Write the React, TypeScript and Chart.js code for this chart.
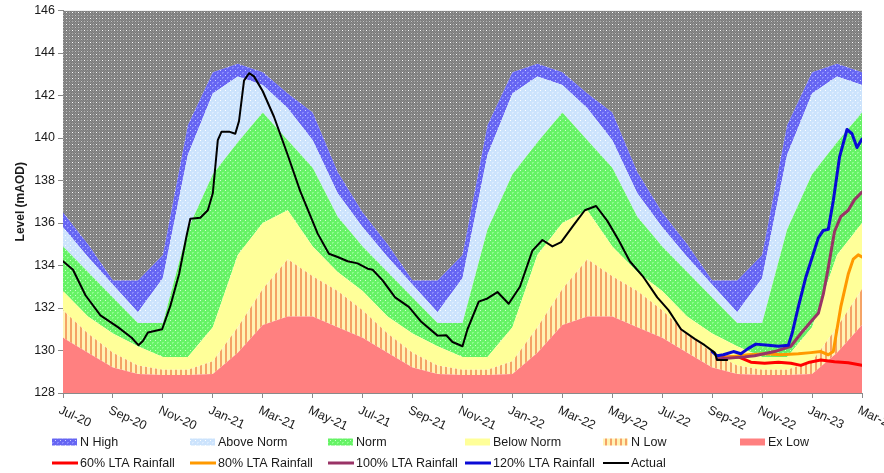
import React, { useEffect, useRef } from 'react';
import { Chart, registerables } from 'chart.js';

Chart.register(...registerables);

// ---------- data ----------
// x = months since Jul-2020
const bandMonths = [0, 1, 2, 3, 4, 5, 6, 7, 8, 9, 10, 11, 12, 13, 14, 15, 16, 17, 18, 19, 20, 21, 22, 23, 24, 25, 26, 27, 28, 29, 30, 31, 32];

const exLowTop = [
  130.6, 129.9, 129.2, 128.9, 128.85, 128.85, 128.9, 129.9, 131.2, 131.6, 131.6, 131.1,
  130.6, 129.9, 129.2, 128.9, 128.85, 128.85, 128.9, 129.9, 131.2, 131.6, 131.6, 131.1,
  130.6, 129.9, 129.2, 128.9, 128.85, 128.85, 128.9, 129.9, 131.2,
];
const nLowTop = [
  131.9, 130.8, 129.9, 129.3, 129.1, 129.1, 129.5, 131.1, 132.9, 134.3, 133.5, 132.8,
  131.9, 130.8, 129.9, 129.3, 129.1, 129.1, 129.5, 131.1, 132.9, 134.3, 133.5, 132.8,
  131.9, 130.8, 129.9, 129.3, 129.1, 129.1, 129.5, 131.1, 132.9,
];
const belowNormTop = [
  132.8, 131.6, 130.8, 130.2, 129.7, 129.7, 131.1, 134.5, 136.0, 136.6, 134.9, 133.7,
  132.8, 131.6, 130.8, 130.2, 129.7, 129.7, 131.1, 134.5, 136.0, 136.6, 134.9, 133.7,
  132.8, 131.6, 130.8, 130.2, 129.7, 129.7, 131.1, 134.5, 136.0,
];
const normTop = [
  134.9, 133.7, 132.5, 131.3, 131.3, 135.7, 138.3, 139.8, 141.2, 139.9, 138.6, 136.3,
  134.9, 133.7, 132.5, 131.3, 131.3, 135.7, 138.3, 139.8, 141.2, 139.9, 138.6, 136.3,
  134.9, 133.7, 132.5, 131.3, 131.3, 135.7, 138.3, 139.8, 141.2,
];
const aboveNormTop = [
  135.8, 134.4, 133.1, 131.8, 133.4, 139.2, 142.1, 142.9, 142.5, 141.4, 139.9, 137.4,
  135.8, 134.4, 133.1, 131.8, 133.4, 139.2, 142.1, 142.9, 142.5, 141.4, 139.9, 137.4,
  135.8, 134.4, 133.1, 131.8, 133.4, 139.2, 142.1, 142.9, 142.5,
];
const nHighTop = [
  136.5, 135.0, 133.3, 133.3, 134.5, 140.6, 143.1, 143.5, 143.1, 142.1, 141.2, 138.4,
  136.5, 135.0, 133.3, 133.3, 134.5, 140.6, 143.1, 143.5, 143.1, 142.1, 141.2, 138.4,
  136.5, 135.0, 133.3, 133.3, 134.5, 140.6, 143.1, 143.5, 143.1,
];

const actualMonths = [
  0, 0.4, 0.9, 1.5, 2.2, 2.75, 3.02, 3.2, 3.4, 3.97, 4.3, 4.65, 4.95, 5.1, 5.5, 5.8, 6.0, 6.2, 6.35, 6.65,
  6.9, 7.05, 7.25, 7.45, 7.65, 8.0, 8.45, 9.0, 9.5, 10.2, 10.65, 11.0, 11.4, 11.8, 12.2, 12.4, 12.8, 13.3,
  13.85, 14.35, 15.0, 15.35, 15.6, 16.0, 16.2, 16.65, 17.0, 17.4, 17.85, 18.3, 18.8, 19.2, 19.6, 19.95,
  20.45, 20.9, 21.35, 21.8, 22.25, 22.7, 23.25, 23.8, 24.25, 24.75, 25.3, 25.7, 26.1, 26.2, 26.6,
];
const actualLevels = [
  134.2, 133.8, 132.6, 131.65, 131.1, 130.6, 130.25, 130.45, 130.85, 131.0, 132.1, 133.6, 135.4, 136.2, 136.25, 136.6, 137.4, 139.9, 140.3, 140.3,
  140.2, 140.8, 142.7, 143.05, 142.9, 142.2, 141.0, 139.2, 137.5, 135.5, 134.55, 134.4, 134.2, 134.1, 133.85, 133.8, 133.3, 132.5,
  132.05, 131.35, 130.7, 130.72, 130.4, 130.2, 131.0, 132.3, 132.45, 132.75, 132.2, 133.0, 134.7, 135.2, 134.9, 135.1,
  135.9, 136.6, 136.8, 136.1, 135.2, 134.2, 133.45, 132.5, 131.9, 131.0, 130.55, 130.25, 129.9, 129.55, 129.55,
];

const lta120Months = [26.0, 26.2, 26.45, 26.85, 27.15, 27.45, 27.75, 28.25, 28.65, 29.05, 29.2, 29.45, 29.75, 30.05, 30.25, 30.45, 30.65, 30.85, 31.1, 31.4, 31.6, 31.8, 32];
const lta120Levels = [129.95, 129.75, 129.8, 129.95, 129.85, 130.1, 130.3, 130.25, 130.2, 130.25, 130.8, 132.05, 133.45, 134.55, 135.3, 135.65, 135.7, 137.05, 139.1, 140.4, 140.2, 139.55, 139.95];

const lta100Months = [26.2, 26.7, 27.3, 27.7, 28.5, 29.15, 29.55, 29.95, 30.25, 30.45, 30.65, 30.9, 31.15, 31.45, 31.7, 32];
const lta100Levels = [129.6, 129.65, 129.7, 129.75, 129.95, 130.2, 130.8, 131.35, 131.75, 132.65, 133.9, 135.6, 136.3, 136.6, 137.1, 137.45];

const lta80Months = [26.2, 26.7, 27.45, 28.1, 28.75, 29.45, 29.95, 30.35, 30.65, 30.85, 30.97, 31.15, 31.45, 31.65, 31.85, 32];
const lta80Levels = [129.6, 129.7, 129.8, 129.85, 129.8, 129.85, 129.9, 129.95, 129.8, 129.95, 130.8, 132.05, 133.6, 134.3, 134.5, 134.4];

const lta60Months = [26.3, 26.6, 27.05, 27.55, 28.1, 28.65, 29.15, 29.55, 29.9, 30.35, 30.9, 31.45, 32];
const lta60Levels = [129.65, 129.7, 129.7, 129.45, 129.4, 129.45, 129.4, 129.3, 129.45, 129.55, 129.47, 129.42, 129.3];

const xTickValues = [0, 2, 4, 6, 8, 10, 12, 14, 16, 18, 20, 22, 24, 26, 28, 30, 32];
const xTickLabels = ['Jul-20', 'Sep-20', 'Nov-20', 'Jan-21', 'Mar-21', 'May-21', 'Jul-21', 'Sep-21', 'Nov-21', 'Jan-22', 'Mar-22', 'May-22', 'Jul-22', 'Sep-22', 'Nov-22', 'Jan-23', 'Mar-23'];

const yMin = 128;
const yMax = 146;
const yStep = 2;

const FONT = '"Liberation Sans", Arial, sans-serif';
const TEXT = '#1a1a1a';
const AXIS = '#8a8a8a';

// ---------- helpers ----------
function pts(xs: number[], ys: number[]) {
  return xs.map((x, i) => ({ x, y: ys[i] }));
}

function makeTile(ctx: CanvasRenderingContext2D, w: number, h: number, draw: (g: CanvasRenderingContext2D) => void) {
  const c = document.createElement('canvas');
  c.width = w;
  c.height = h;
  const g = c.getContext('2d')!;
  draw(g);
  return ctx.createPattern(c, 'repeat')!;
}

function dotted(ctx: CanvasRenderingContext2D, base: string, dot1: string, dot2: string) {
  return makeTile(ctx, 5, 5, (g) => {
    g.fillStyle = base;
    g.fillRect(0, 0, 5, 5);
    g.fillStyle = dot1;
    g.fillRect(0, 0, 1, 1);
    g.fillStyle = dot2;
    g.fillRect(2, 2, 2, 1);
    g.fillRect(2, 3, 1, 1);
  });
}

function grayTile(ctx: CanvasRenderingContext2D) {
  return makeTile(ctx, 6, 6, (g) => {
    g.fillStyle = '#8c8c8c';
    g.fillRect(0, 0, 6, 6);
    g.fillStyle = '#7a7a7a';
    for (let yy = 0; yy < 6; yy++) {
      for (let xx = 0; xx < 6; xx++) {
        if ((xx + yy) % 2 === 1) g.fillRect(xx, yy, 1, 1);
      }
    }
    g.fillStyle = '#ffffff';
    g.fillRect(0, 0, 1, 1);
    g.fillStyle = '#c4c4c4';
    g.fillRect(3, 3, 1, 1);
    g.fillStyle = '#a8a8a8';
    g.fillRect(3, 0, 1, 1);
    g.fillRect(0, 3, 1, 1);
  });
}

const legendRows = [
  [
    { label: 'N High', ds: 10 },
    { label: 'Above Norm', ds: 9 },
    { label: 'Norm', ds: 8 },
    { label: 'Below Norm', ds: 7 },
    { label: 'N Low', ds: 6 },
    { label: 'Ex Low', ds: 5 },
  ],
  [
    { label: '60% LTA Rainfall', ds: 4 },
    { label: '80% LTA Rainfall', ds: 3 },
    { label: '100% LTA Rainfall', ds: 2 },
    { label: '120% LTA Rainfall', ds: 1 },
    { label: 'Actual', ds: 0 },
  ],
];
const legendCols = [52, 190, 328, 465, 603, 740];
const legendRowY = [442, 463];

const decorPlugin = {
  id: 'decor',
  afterDraw(chart: any) {
    const ctx: CanvasRenderingContext2D = chart.ctx;
    const xs = chart.scales.x;
    const bottom = chart.chartArea.bottom;
    ctx.save();
    // rotated x tick labels
    ctx.font = `12.5px ${FONT}`;
    ctx.fillStyle = TEXT;
    ctx.textAlign = 'left';
    ctx.textBaseline = 'top';
    xTickValues.forEach((v, i) => {
      const px = xs.getPixelForValue(v);
      ctx.save();
      ctx.translate(px - 1, bottom + 11);
      ctx.rotate((25 * Math.PI) / 180);
      ctx.fillText(xTickLabels[i], 0, 0);
      ctx.restore();
    });
    // legend
    ctx.textBaseline = 'middle';
    legendRows.forEach((row, r) => {
      const y = legendRowY[r];
      row.forEach((item, c) => {
        const x = legendCols[c];
        const ds = chart.data.datasets[item.ds];
        if (r === 0) {
          ctx.fillStyle = ds.backgroundColor;
          ctx.fillRect(x, y - 3.5, 25, 7);
        } else {
          ctx.strokeStyle = ds.borderColor;
          ctx.lineWidth = ds.borderWidth;
          ctx.beginPath();
          ctx.moveTo(x, y);
          ctx.lineTo(x + 26, y);
          ctx.stroke();
        }
        ctx.fillStyle = TEXT;
        ctx.fillText(item.label, x + 28, y + 0.5);
      });
    });
    ctx.restore();
  },
};

export default function App() {
  const ref = useRef<HTMLCanvasElement>(null);

  useEffect(() => {
    const canvas = ref.current!;
    const ctx = canvas.getContext('2d')!;

    const grayPat = grayTile(ctx);
    const nHighPat = dotted(ctx, '#6666f2', '#d0d0ff', '#8a8aff');
    const abovePat = dotted(ctx, '#cce3fc', '#ffffff', '#dcecff');
    const normPat = dotted(ctx, '#66f266', '#d0ffd0', '#8cff8c');
    const nLowPat = makeTile(ctx, 5, 1, (g) => {
      g.fillStyle = '#fff3b4';
      g.fillRect(0, 0, 5, 1);
      g.fillStyle = '#f5a366';
      g.fillRect(0, 0, 2, 1);
    });

    const band = (label: string, data: number[], color: any, fill: any) => ({
      label,
      data: pts(bandMonths, data),
      backgroundColor: color,
      borderColor: 'rgba(0,0,0,0)',
      borderWidth: 0,
      pointRadius: 0,
      tension: 0,
      fill,
    });
    const line = (label: string, xs: number[], ys: number[], color: string, w: number) => ({
      label,
      data: pts(xs, ys),
      borderColor: color,
      backgroundColor: color,
      borderWidth: w,
      pointRadius: 0,
      tension: 0,
      fill: false,
      borderJoinStyle: 'round' as const,
      borderCapStyle: 'round' as const,
    });

    const chart = new Chart(canvas, {
      type: 'line',
      data: {
        datasets: [
          line('Actual', actualMonths, actualLevels, '#000000', 2),
          line('120% LTA Rainfall', lta120Months, lta120Levels, '#0a0ad6', 3),
          line('100% LTA Rainfall', lta100Months, lta100Levels, '#993366', 3),
          line('80% LTA Rainfall', lta80Months, lta80Levels, '#ff9900', 3),
          line('60% LTA Rainfall', lta60Months, lta60Levels, '#ff0000', 3),
          band('Ex Low', exLowTop, '#ff8080', 'start'),
          band('N Low', nLowTop, nLowPat, 5),
          band('Below Norm', belowNormTop, '#ffff99', 6),
          band('Norm', normTop, normPat, 7),
          band('Above Norm', aboveNormTop, abovePat, 8),
          band('N High', nHighTop, nHighPat, 9),
          band('Ex High', nHighTop, grayPat, 'end'),
        ] as any,
      },
      options: {
        animation: false,
        responsive: false,
        devicePixelRatio: 1,
        events: [],
        layout: { padding: { left: 0, right: 22, top: 9, bottom: 0 } },
        plugins: {
          legend: { display: false },
          tooltip: { enabled: false },
        },
        scales: {
          x: {
            type: 'linear',
            min: 0,
            max: 32,
            ticks: { display: false, stepSize: 2, autoSkip: false },
            grid: { drawOnChartArea: false, drawTicks: true, tickLength: 5, color: AXIS },
            border: { display: true, color: AXIS, width: 1 },
            afterFit: (s: any) => {
              s.height = 80;
            },
          },
          y: {
            type: 'linear',
            min: yMin,
            max: yMax,
            ticks: {
              stepSize: yStep,
              padding: 3,
              color: TEXT,
              font: { family: FONT, size: 12.5 },
            },
            grid: { drawOnChartArea: false, drawTicks: true, tickLength: 5, color: AXIS },
            border: { display: true, color: AXIS, width: 1 },
            title: {
              display: true,
              text: 'Level (mAOD)',
              color: TEXT,
              font: { family: FONT, size: 12, weight: 'bold' },
              padding: { top: 13, bottom: 0 },
            },
            afterFit: (s: any) => {
              s.width = 63;
            },
          },
        },
      } as any,
      plugins: [decorPlugin],
    });

    return () => chart.destroy();
  }, []);

  return (
    <div style={{ position: 'absolute', left: 0, top: 0, width: 884, height: 473, background: '#ffffff' }}>
      <canvas ref={ref} width={884} height={473} style={{ display: 'block', width: 884, height: 473 }} />
    </div>
  );
}
